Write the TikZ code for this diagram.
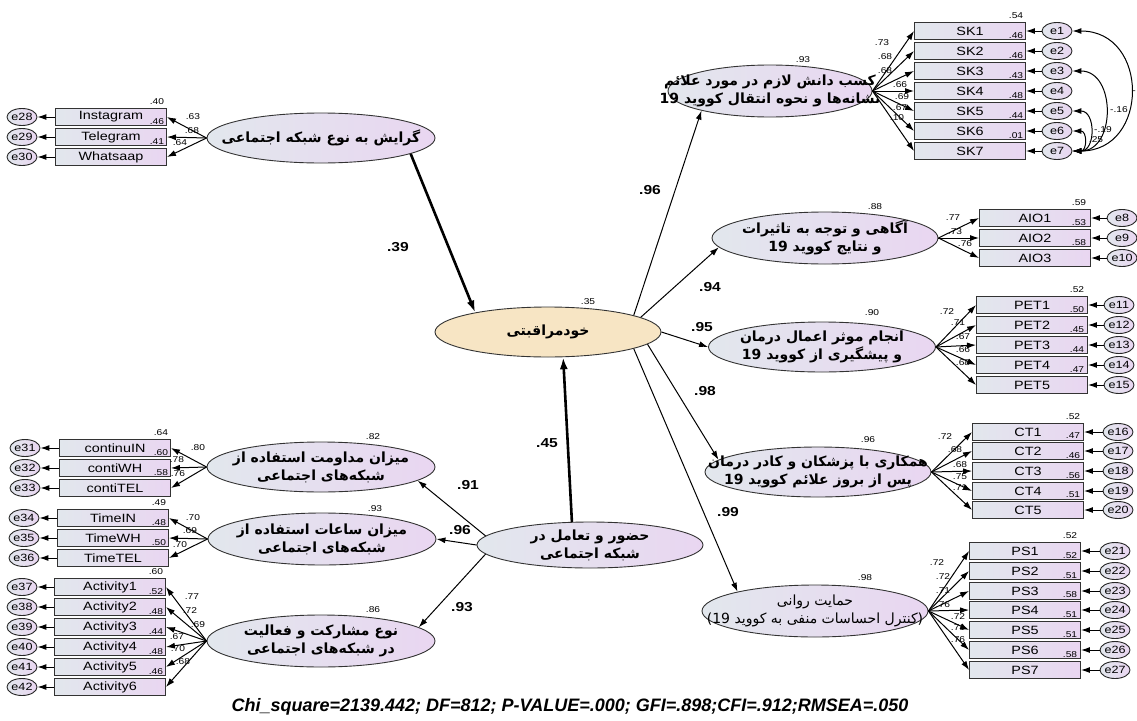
\documentclass[tikz,border=0pt]{standalone}
\usepackage{fontspec}
\setmainfont{Liberation Sans}
\newfontfamily\wide{Liberation Sans}[FakeStretch=1.2]
\newfontfamily\farsi[Script=Arabic]{DejaVu Sans}
\TeXXeTstate=1
\usetikzlibrary{shapes.geometric,arrows.meta}
\definecolor{boxl}{RGB}{226,231,237}
\definecolor{boxr}{RGB}{233,214,241}
\definecolor{beige}{RGB}{247,229,196}
\newcommand{\rtltext}[1]{\beginR #1\endR}
\tikzset{
  obs/.style={draw=black!80, line width=0.9pt, rectangle, minimum width=111pt, minimum height=17pt, inner sep=0pt,
    left color=boxl, right color=boxr, font=\wide\fontsize{12}{12}\selectfont},
  err/.style={draw=black!85, line width=0.9pt, ellipse, minimum width=30pt, minimum height=17pt, inner sep=0pt,
    left color=boxl, right color=boxr, font=\wide\fontsize{10.5}{10.5}\selectfont},
  lat/.style={draw=black!80, line width=0.9pt, ellipse, inner sep=0pt, left color=boxl, right color=boxr},
  txt/.style={font=\farsi\bfseries\fontsize{14}{18}\selectfont, align=center, inner sep=0pt},
  txtn/.style={font=\farsi\fontsize{14}{18}\selectfont, align=center, inner sep=0pt},
  num/.style={font=\wide\fontsize{8.5}{8.5}\selectfont, inner sep=0pt},
  coef/.style={font=\wide\bfseries\fontsize{13}{13}\selectfont, inner sep=0pt},
  arr/.style={-{Latex[length=9pt,width=6pt]}, line width=1pt},
  thick arr/.style={-{Latex[length=12pt,width=8pt]}, line width=2.6pt},
  cor/.style={{Latex[length=9pt,width=6pt]}-{Latex[length=9pt,width=6pt]}, line width=1pt},
}
\begin{document}
\begin{tikzpicture}[x=1pt,y=-1pt]
  \useasboundingbox (0,0) rectangle (1137,720);
  % Variables latentes
  \node[lat, minimum width=228pt, minimum height=50pt] (grayesh) at (321,138) {};
  \node[lat, minimum width=226pt, minimum height=50pt, left color=beige, right color=beige] (khod) at (548,332) {};
  \node[lat, minimum width=226pt, minimum height=46pt] (hozur) at (590,545) {};
  \node[lat, minimum width=228pt, minimum height=50pt] (modavemat) at (321,467) {};
  \node[lat, minimum width=228pt, minimum height=52pt] (saat) at (322,539) {};
  \node[lat, minimum width=228pt, minimum height=52pt] (mosharekat) at (321,641) {};
  \node[lat, minimum width=204pt, minimum height=52pt] (sk) at (770,91) {};
  \node[lat, minimum width=226pt, minimum height=52pt] (aio) at (825,238) {};
  \node[lat, minimum width=227pt, minimum height=50pt] (pet) at (822,347) {};
  \node[lat, minimum width=226pt, minimum height=50pt] (ct) at (818,472) {};
  \node[lat, minimum width=226pt, minimum height=52pt] (ps) at (815,611) {};
  % Textos
  \node[txt] (grayeshtxt) at (grayesh) {\rtltext{گرایش به نوع شبکه اجتماعی}};
  \node[txt] (khodtxt) at (khod) {\rtltext{خودمراقبتی}};
  \node[txt] (hozurtxt) at (hozur) {\rtltext{حضور و تعامل در}\\\rtltext{شبکه اجتماعی}};
  \node[txt] (modavemattxt) at (modavemat) {\rtltext{میزان مداومت استفاده از}\\\rtltext{شبکه‌های اجتماعی}};
  \node[txt] (saattxt) at (saat) {\rtltext{میزان ساعات استفاده از}\\\rtltext{شبکه‌های اجتماعی}};
  \node[txt] (mosharekattxt) at (mosharekat) {\rtltext{نوع مشارکت و فعالیت}\\\rtltext{در شبکه‌های اجتماعی}};
  \node[txt] (sktxt) at (sk) {\rtltext{کسب دانش لازم در مورد علائم}\\\rtltext{نشانه‌ها و نحوه انتقال کووید 19}};
  \node[txt] (aiotxt) at (aio) {\rtltext{آگاهی و توجه به تاثیرات}\\\rtltext{و نتایج کووید 19}};
  \node[txt] (pettxt) at (pet) {\rtltext{انجام موثر اعمال درمان}\\\rtltext{و پیشگیری از کووید 19}};
  \node[txt] (cttxt) at (ct) {\rtltext{همکاری با پزشکان و کادر درمان}\\\rtltext{پس از بروز علائم کووید 19}};
  \node[txtn] (pstxt) at (ps) {\rtltext{حمایت روانی}\\\rtltext{(کنترل احساسات منفی به کووید 19)}};
  % R2 de latentes
  \node[num] (rkhod) at (588,302) {.35};
  \node[num] (rmodavemat) at (373,437) {.82};
  \node[num] (rsaat) at (375,509) {.93};
  \node[num] (rmosharekat) at (373,610) {.86};
  \node[num] (rsk) at (803,60) {.93};
  \node[num] (raio) at (875,207) {.88};
  \node[num] (rpet) at (872,313) {.90};
  \node[num] (rct) at (868,440) {.96};
  \node[num] (rps) at (865,578) {.98};
  % Indicadores izquierda
  \foreach \i/\t/\y/\r/\l/\lx/\ly/\e in {1/Instagram/117/.40/.63/193/117/28,
      2/Telegram/137/.46/.68/192/131/29, 3/Whatsaap/157/.41/.64/180/143/30}{
    \node[obs] (gr\i) at (111,\y) {\t};
    \node[err] (e\e) at (22,\y) {e\e};
    \draw[arr] (gr\i.west) -- (e\e);
    \draw[arr] (grayesh.west) -- (gr\i.east);
    \node[num] (rgr\i) at (157,\y-15) {\r};
    \node[num] (lgr\i) at (\lx,\ly) {\l};
  }
  \foreach \i/\t/\y/\r/\l/\lx/\ly/\e in {1/continuIN/448/.64/.80/198/448/31,
      2/contiWH/468/.60/.78/177/460/32, 3/contiTEL/488/.58/.76/178/474/33}{
    \node[obs] (mo\i) at (115,\y) {\t};
    \node[err] (e\e) at (25,\y) {e\e};
    \draw[arr] (mo\i.west) -- (e\e);
    \draw[arr] (modavemat.west) -- (mo\i.east);
    \node[num] (rmo\i) at (161,\y-15) {\r};
    \node[num] (lmo\i) at (\lx,\ly) {\l};
  }
  \foreach \i/\t/\y/\r/\l/\lx/\ly/\e in {1/TimeIN/518/.49/.70/193/518/34,
      2/TimeWH/538/.48/.69/190/531/35, 3/TimeTEL/558/.50/.70/180/545/36}{
    \node[obs] (sa\i) at (113,\y) {\t};
    \node[err] (e\e) at (24,\y) {e\e};
    \draw[arr] (sa\i.west) -- (e\e);
    \draw[arr] (saat.west) -- (sa\i.east);
    \node[num] (rsa\i) at (159,\y-15) {\r};
    \node[num] (lsa\i) at (\lx,\ly) {\l};
  }
  \foreach \i/\y/\r/\l/\lx/\ly/\e in {1/587/.60/.77/192/597/37, 2/607/.52/.72/190/611/38,
      3/627/.48/.69/198/625/39, 4/647/.44/.67/177/637/40, 5/667/.48/.70/178/649/41,
      6/687/.46/.68/183/662/42}{
    \node[obs] (ac\i) at (110,\y) {Activity\i};
    \node[err] (e\e) at (22,\y) {e\e};
    \draw[arr] (ac\i.west) -- (e\e);
    \draw[arr] (mosharekat.west) -- (ac\i.east);
    \node[num] (rac\i) at (156,\y-15) {\r};
    \node[num] (lac\i) at (\lx,\ly) {\l};
  }
  % Indicadores derecha
  \foreach \i/\y/\r/\l/\lx/\ly in {1/31/.54/.73/882/43, 2/51/.46/.68/885/57, 3/71/.46/.68/885/71,
      4/91/.43/.66/900/85, 5/111/.48/.69/902/97, 6/131/.44/.67/900/108, 7/151/.01/.10/897/118}{
    \node[obs] (sk\i) at (970,\y) {SK\i};
    \node[err] (e\i) at (1057,\y) {e\i};
    \draw[arr] (e\i) -- (sk\i.east);
    \draw[arr] (sk.east) -- (sk\i.west);
    \node[num] (rsk\i) at (1016,\y-15) {\r};
    \node[num] (lsk\i) at (\lx,\ly) {\l};
  }
  \foreach \i/\y/\r/\l/\lx/\ly/\e in {1/218/.59/.77/953/218/8, 2/238/.53/.73/955/232/9,
      3/258/.58/.76/965/244/10}{
    \node[obs] (aio\i) at (1035,\y) {AIO\i};
    \node[err] (e\e) at (1122,\y) {e\e};
    \draw[arr] (e\e) -- (aio\i.east);
    \draw[arr] (aio.east) -- (aio\i.west);
    \node[num] (raio\i) at (1079,\y-15) {\r};
    \node[num] (laio\i) at (\lx,\ly) {\l};
  }
  \foreach \i/\y/\r/\l/\lx/\ly/\e in {1/305/.52/.72/947/312/11, 2/325/.50/.71/958/323/12,
      3/345/.45/.67/963/337/13, 4/365/.44/.66/963/350/14, 5/385/.47/.68/963/363/15}{
    \node[obs] (pet\i) at (1032,\y) {PET\i};
    \node[err] (e\e) at (1119,\y) {e\e};
    \draw[arr] (e\e) -- (pet\i.east);
    \draw[arr] (pet.east) -- (pet\i.west);
    \node[num] (rpet\i) at (1077,\y-15) {\r};
    \node[num] (lpet\i) at (\lx,\ly) {\l};
  }
  \foreach \i/\y/\r/\l/\lx/\ly/\e in {1/432/.52/.72/945/437/16, 2/451/.47/.68/955/450/17,
      3/471/.46/.68/960/465/18, 4/491/.56/.75/960/477/19, 5/510/.51/.71/960/488/20}{
    \node[obs] (ct\i) at (1028,\y) {CT\i};
    \node[err] (e\e) at (1118,\y) {e\e};
    \draw[arr] (e\e) -- (ct\i.east);
    \draw[arr] (ct.east) -- (ct\i.west);
    \node[num] (rct\i) at (1073,\y-15) {\r};
    \node[num] (lct\i) at (\lx,\ly) {\l};
  }
  \foreach \i/\y/\r/\l/\lx/\ly/\e in {1/551/.52/.72/937/563/21, 2/571/.52/.72/943/577/22,
      3/591/.51/.71/943/591/23, 4/610/.58/.76/943/605/24, 5/630/.51/.72/958/617/25,
      6/650/.51/.71/958/628/26, 7/670/.58/.76/958/640/27}{
    \node[obs] (ps\i) at (1025,\y) {PS\i};
    \node[err] (e\e) at (1115,\y) {e\e};
    \draw[arr] (e\e) -- (ps\i.east);
    \draw[arr] (ps.east) -- (ps\i.west);
    \node[num] (rps\i) at (1070,\y-15) {\r};
    \node[num] (lps\i) at (\lx,\ly) {\l};
  }
  % Covarianzas de errores
  \draw[cor] (e7.east) to[out=0,in=0,looseness=1.65] (e1.east);
  \draw[cor] (e7.east) to[out=0,in=0,looseness=1.4] (e3.east);
  \draw[cor] (e7.east) to[out=0,in=0,looseness=1.5] (e5.east);
  \draw[cor] (e7.east) to[out=0,in=0,looseness=1.9] (e6.east);
  \node[num] (c17) at (1134,92) {-};
  \node[num] (c37) at (1119,110) {-.16};
  \node[num] (c57) at (1103,130) {-.19};
  \node[num] (c67) at (1096,140) {.25};
  % Trayectorias estructurales
  \draw[thick arr] (grayesh.-10) -- (khod.165);
  \draw[thick arr] (hozur.128) -- (khod.-59);
  \draw[arr] (hozur.175) -- (modavemat.-8);
  \draw[arr] (hozur.west) -- (saat.east);
  \draw[arr] (hozur.185) -- (mosharekat.8);
  \draw[arr] (khod.11) -- (sk.196);
  \draw[arr] (khod.9) -- (aio.185);
  \draw[arr] (khod.east) -- (pet.west);
  \draw[arr] (khod.-7) -- (ct.173);
  \draw[arr] (khod.-11) -- (ps.166);
  \node[coef] (c39) at (398,247) {.39};
  \node[coef] (c45) at (547,443) {.45};
  \node[coef] (c91) at (468,485) {.91};
  \node[coef] (c96a) at (460,530) {.96};
  \node[coef] (c93) at (462,607) {.93};
  \node[coef] (c96b) at (650,190) {.96};
  \node[coef] (c94) at (710,287) {.94};
  \node[coef] (c95) at (702,327) {.95};
  \node[coef] (c98) at (705,391) {.98};
  \node[coef] (c99) at (728,512) {.99};
  % Ajuste
  \node[font=\bfseries\itshape\fontsize{18}{18}\selectfont] (ajuste) at (570,707)
    {Chi\_square=2139.442; DF=812; P-VALUE=.000; GFI=.898;CFI=.912;RMSEA=.050};
\end{tikzpicture}
\end{document}
